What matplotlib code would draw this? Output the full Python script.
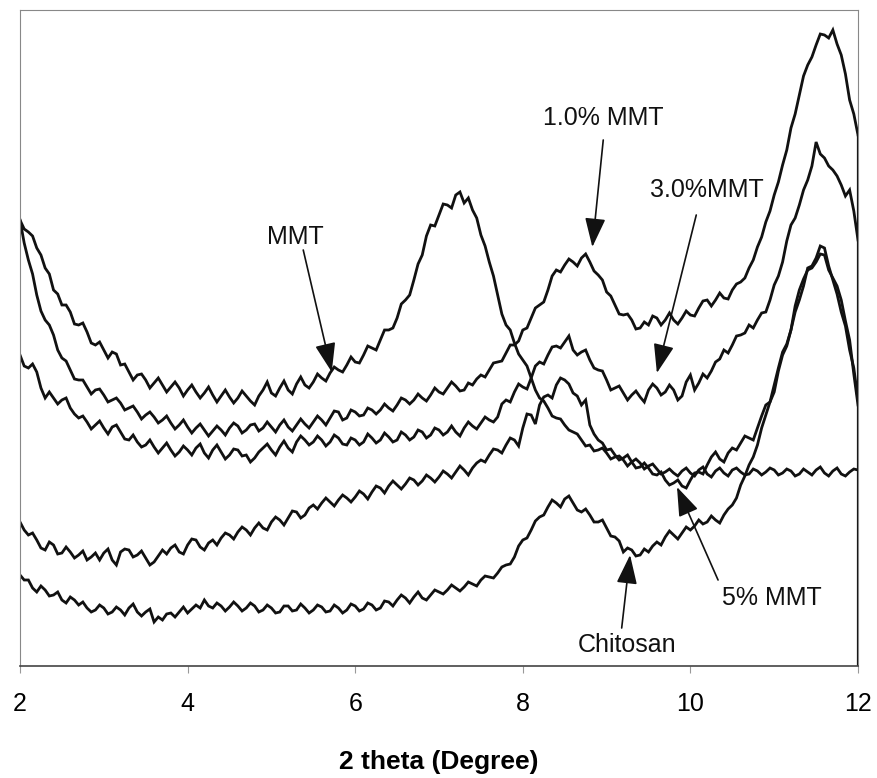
import numpy as np
import matplotlib
matplotlib.use("Agg")
import matplotlib.pyplot as plt

# 2-theta sampling grid (degrees), 0.05 deg step
two_theta = np.round(np.linspace(2.0, 12.0, 201), 2)

# Intensities (arbitrary units)
mmt = [446, 437, 434, 430, 418, 411, 398, 392, 376, 372,
       361, 361, 354, 342, 341, 343, 334, 323, 321, 324,
       316, 308, 314, 312, 301, 302, 294, 286, 291, 292,
       286, 278, 283, 288, 281, 274, 279, 284, 278, 270,
       276, 281, 274, 268, 273, 279, 271, 264, 270, 276,
       269, 263, 268, 275, 270, 265, 261, 270, 276, 284,
       273, 270, 278, 285, 276, 272, 282, 289, 281, 278,
       284, 292, 288, 285, 293, 299, 296, 294, 301, 309,
       304, 303, 311, 320, 318, 316, 326, 336, 336, 338,
       348, 362, 366, 371, 386, 402, 411, 430, 441, 440,
       451, 462, 461, 458, 471, 474, 463, 468, 456, 448,
       431, 420, 404, 390, 371, 352, 341, 336, 323, 312,
       306, 300, 288, 276, 268, 265, 258, 250, 248, 247,
       241, 236, 234, 232, 226, 220, 221, 215, 216, 218,
       213, 207, 209, 210, 206, 200, 204, 207, 203, 197,
       200, 202, 197, 192, 194, 197, 193, 190, 195, 198,
       193, 190, 196, 199, 192, 189, 195, 198, 193, 190,
       196, 198, 194, 191, 192, 197, 195, 191, 194, 198,
       196, 191, 193, 197, 195, 190, 192, 197, 194, 191,
       196, 199, 193, 190, 195, 198, 192, 190, 194, 197,
       196]

mmt_1 = [446, 423, 406, 392, 371, 355, 346, 341, 331, 316,
         308, 305, 296, 287, 286, 286, 279, 272, 276, 277,
         271, 264, 266, 268, 263, 256, 258, 260, 254, 247,
         251, 254, 249, 243, 246, 250, 243, 237, 241, 246,
         239, 233, 238, 242, 236, 230, 235, 240, 236, 231,
         238, 243, 240, 233, 236, 241, 242, 235, 238, 244,
         239, 234, 241, 246, 239, 235, 241, 247, 242, 238,
         244, 250, 246, 241, 248, 255, 254, 246, 248, 256,
         254, 250, 251, 258, 256, 252, 256, 262, 258, 255,
         261, 268, 266, 262, 266, 272, 268, 265, 271, 278,
         274, 272, 278, 284, 280, 275, 276, 283, 281, 287,
         291, 289, 296, 303, 304, 305, 313, 321, 321, 325,
         336, 338, 348, 358, 361, 364, 376, 390, 396, 394,
         401, 407, 404, 400, 408, 412, 404, 395, 391, 386,
         374, 370, 361, 352, 351, 352, 346, 337, 338, 344,
         341, 350, 348, 341, 346, 353, 346, 342, 348, 355,
         351, 350, 358, 365, 366, 360, 366, 373, 368, 367,
         376, 382, 384, 388, 398, 406, 419, 429, 444, 455,
         471, 484, 501, 516, 538, 552, 571, 590, 601, 609,
         621, 632, 631, 628, 636, 622, 611, 592, 566, 552,
         531]

mmt_3 = [311, 300, 298, 302, 294, 278, 268, 274, 268, 262,
         266, 268, 258, 252, 248, 250, 244, 237, 241, 245,
         238, 232, 239, 241, 234, 227, 226, 231, 224, 219,
         221, 226, 219, 213, 218, 223, 216, 210, 214, 220,
         216, 211, 218, 222, 213, 208, 216, 221, 214, 207,
         211, 217, 216, 210, 211, 204, 208, 214, 218, 222,
         216, 211, 219, 225, 218, 214, 224, 230, 226, 221,
         224, 230, 226, 220, 224, 231, 228, 222, 221, 228,
         226, 221, 224, 232, 228, 223, 226, 233, 229, 224,
         226, 234, 231, 226, 229, 236, 234, 228, 231, 238,
         236, 231, 234, 240, 234, 230, 238, 244, 240, 237,
         243, 249, 246, 244, 249, 262, 266, 264, 274, 282,
         279, 277, 288, 300, 304, 302, 311, 319, 320, 318,
         324, 330, 316, 311, 314, 316, 306, 298, 296, 295,
         286, 276, 278, 280, 273, 266, 271, 275, 269, 264,
         276, 282, 278, 271, 274, 281, 276, 266, 270, 284,
         291, 276, 283, 292, 288, 295, 304, 307, 316, 313,
         321, 330, 331, 333, 341, 338, 346, 353, 354, 366,
         381, 390, 404, 425, 441, 448, 461, 476, 486, 500,
         524, 512, 508, 500, 496, 490, 481, 470, 476, 455,
         426]

mmt_5 = [144, 136, 131, 133, 126, 118, 116, 124, 121, 112,
         113, 119, 114, 108, 111, 115, 106, 109, 113, 106,
         113, 117, 106, 101, 114, 117, 116, 109, 111, 115,
         108, 101, 104, 110, 116, 112, 118, 121, 114, 112,
         121, 127, 126, 119, 116, 123, 126, 121, 128, 133,
         131, 127, 134, 139, 136, 131, 138, 143, 138, 136,
         144, 149, 146, 141, 148, 155, 154, 148, 151, 158,
         161, 157, 163, 168, 164, 160, 166, 171, 168, 164,
         169, 175, 172, 167, 174, 180, 178, 173, 180, 185,
         181, 177, 182, 188, 186, 181, 185, 191, 188, 184,
         189, 195, 192, 188, 194, 200, 196, 191, 198, 203,
         206, 204, 211, 217, 216, 213, 221, 228, 226, 220,
         238, 252, 251, 242, 261, 269, 271, 268, 281, 288,
         286, 282, 273, 270, 261, 266, 241, 232, 226, 223,
         216, 217, 211, 206, 208, 211, 204, 198, 199, 203,
         198, 192, 191, 194, 186, 181, 183, 186, 180, 178,
         186, 193, 194, 192, 201, 209, 214, 207, 204, 213,
         218, 216, 223, 230, 228, 226, 238, 250, 261, 264,
         274, 295, 311, 320, 336, 354, 366, 380, 398, 400,
         408, 420, 418, 400, 386, 372, 354, 340, 316, 298,
         266]

chitosan = [91, 86, 86, 78, 74, 80, 76, 70, 71, 74,
            66, 63, 69, 66, 61, 64, 58, 54, 56, 61,
            58, 52, 54, 59, 56, 51, 58, 62, 54, 50,
            54, 57, 44, 49, 46, 52, 53, 49, 54, 59,
            53, 57, 61, 58, 66, 60, 58, 63, 60, 55,
            59, 64, 60, 55, 58, 63, 60, 54, 56, 61,
            58, 53, 54, 60, 60, 55, 56, 62, 58, 53,
            56, 61, 59, 54, 55, 61, 58, 53, 56, 62,
            60, 55, 57, 63, 61, 56, 58, 65, 64, 60,
            66, 71, 68, 63, 69, 74, 68, 66, 71, 76,
            74, 72, 76, 81, 78, 75, 79, 84, 82, 80,
            86, 90, 89, 88, 93, 99, 101, 102, 109, 120,
            126, 128, 136, 145, 149, 151, 159, 166, 163, 159,
            167, 170, 163, 156, 154, 157, 151, 144, 144, 146,
            138, 130, 129, 125, 114, 118, 116, 110, 111, 117,
            114, 120, 124, 121, 129, 135, 131, 127, 133, 139,
            136, 140, 146, 142, 144, 150, 146, 143, 151, 157,
            161, 168, 181, 190, 201, 209, 221, 238, 251, 264,
            281, 298, 314, 322, 336, 360, 376, 387, 396, 398,
            404, 412, 411, 396, 388, 380, 366, 345, 326, 292,
            261]

x_ticks = [2, 4, 6, 8, 10, 12]

labels = ["MMT", "1.0% MMT", "3.0%MMT", "5% MMT", "Chitosan"]
label_pos = [(5.29, 429), (8.96, 548), (10.20, 476), (10.97, 68), (9.24, 21)]
arrow_start = [(5.38, 416), (8.96, 526), (10.07, 451), (10.33, 86), (9.18, 38)]
arrow_tip = [(5.72, 294), (8.83, 419), (9.60, 293), (9.84, 179), (9.28, 111)]

FONT = ["Liberation Sans", "DejaVu Sans"]
INK = "#111111"

fig = plt.figure(figsize=(8.78, 7.78), dpi=100)
ax = fig.add_axes([20 / 878, 1 - 666 / 778, 838 / 878, 656 / 778])

for series in (mmt, mmt_1, mmt_3, mmt_5, chitosan):
    ax.plot(two_theta, series, color=INK, lw=2.0, solid_joinstyle="miter")
ax.vlines(two_theta[-1], 0, mmt_1[-1], color=INK, lw=1.6)

ax.set_xlim(2, 12)
ax.set_ylim(0, 656)
ax.set_yticks([])
ax.set_xticks(x_ticks)
ax.set_xticklabels([str(t) for t in x_ticks], family=FONT, fontsize=18)
ax.tick_params(axis="x", direction="out", length=5, width=0.8,
               color="#999999", pad=14)

for side in ("top", "left", "right"):
    ax.spines[side].set_linestyle((0, (1, 1)))
    ax.spines[side].set_color("#888888")
    ax.spines[side].set_linewidth(0.8)
ax.spines["bottom"].set_color("#444444")
ax.spines["bottom"].set_linewidth(1.2)

ax.set_xlabel("2 theta (Degree)", family=FONT, fontsize=19,
              fontweight="bold", labelpad=24)

for lab, pos, s, t in zip(labels, label_pos, arrow_start, arrow_tip):
    ax.text(pos[0], pos[1], lab, family=FONT, fontsize=18,
            ha="center", va="center", color=INK)
    ax.annotate("", xy=t, xytext=s,
                arrowprops=dict(arrowstyle="-|>,head_length=0.9,head_width=0.32",
                                color=INK, lw=1.2, mutation_scale=20,
                                shrinkA=0, shrinkB=0))

fig.savefig("out.png", dpi=100)
